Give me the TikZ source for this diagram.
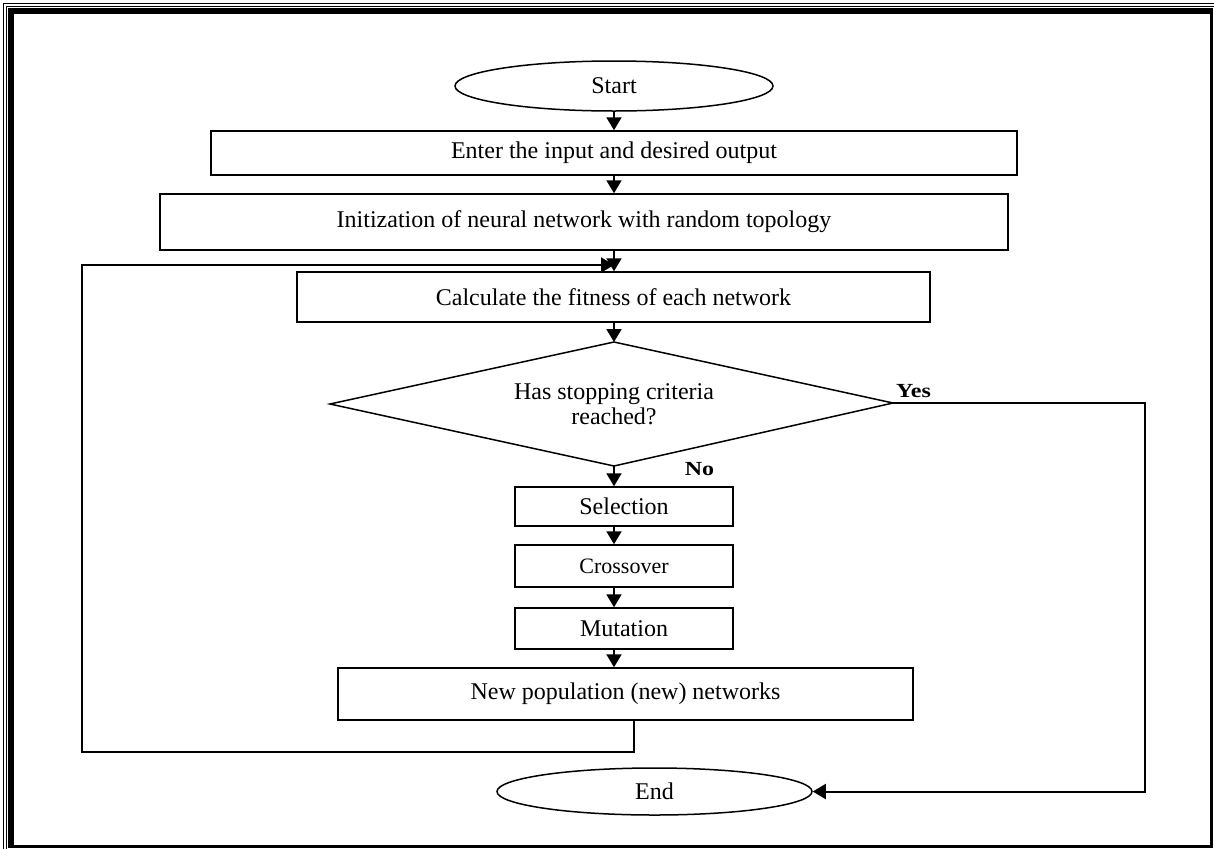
\documentclass[tikz,border=0pt]{standalone}
\usepackage{fontspec}
\setmainfont{Liberation Serif}
\newfontfamily\lblfont[FakeStretch=1.2]{Liberation Serif}
\usetikzlibrary{arrows.meta,shapes.geometric}
\begin{document}
\begin{tikzpicture}[x=1pt,y=-1pt,
  box/.style={draw,line width=1.5pt,inner sep=0pt,font=\fontsize{24}{28}\selectfont},
  oval/.style={draw,ellipse,line width=1.5pt,inner sep=0pt,font=\fontsize{24}{28}\selectfont},
  arr/.style={line width=2pt,-{Triangle[length=13pt,width=15pt]}},
  lbl/.style={font=\lblfont\fontsize{20}{24}\selectfont\bfseries,inner sep=0pt}]
\useasboundingbox (0,0) rectangle (1214,849);
% border
\draw[line width=0.8pt] (3.5,849) -- (3.5,3.5) -- (1214,3.5);
\draw[line width=0.8pt] (6,849) -- (6,6) -- (1214,6);
\fill (8.3,8.3) rectangle (13.7,847.5);
\fill (8.3,8.3) rectangle (1213,13.7);
\fill (1210,8.3) rectangle (1213,847.5);
\fill (8.3,845) rectangle (1213,847.5);
% nodes
\node[oval,minimum width=318,minimum height=50] (start) at (614,86) {Start};
\node[box,minimum width=806,minimum height=44] (b1) at (614,153) {Enter the input and desired output};
\node[box,minimum width=848,minimum height=56] (b2) at (584,222) {Initization of neural network with random topology};
\node[box,minimum width=633,minimum height=50] (b3) at (613.5,297) {Calculate the fitness of each network};
\coordinate (dT) at (614,342);
\coordinate (dL) at (330,404);
\coordinate (dR) at (893,403);
\coordinate (dB) at (614,466);
\draw[line width=1.5pt] (dT) -- (dR) -- (dB) -- (dL) -- cycle;
\node[align=center,font=\fontsize{24}{25}\selectfont,inner sep=0pt] (dtxt) at (614,404) {Has stopping criteria\\reached?};
\node[box,minimum width=218,minimum height=39] (sel) at (624,506.5) {Selection};
\node[box,minimum width=218,minimum height=42,font=\fontsize{22}{26}\selectfont] (cro) at (624,566) {Crossover};
\node[box,minimum width=218,minimum height=41] (mut) at (624,628.5) {Mutation};
\node[box,minimum width=575,minimum height=52] (np) at (625.5,694) {New population (new) networks};
\node[oval,minimum width=315,minimum height=47] (end) at (654.5,791.5) {End};
\node[lbl] (yes) at (913.5,391) {Yes};
\node[lbl] (no) at (699.5,469) {No};
% connectors
\coordinate (ax) at (614,0);
\draw[arr] (start.south) -- (start.south |- b1.north);
\draw[arr] (ax |- b1.south) -- (ax |- b2.north);
\draw[arr] (ax |- b2.south) -- (ax |- b3.north);
\draw[arr] (ax |- b3.south) -- (dT);
\draw[arr] (dB) -- (dB |- sel.north);
\draw[arr] (ax |- sel.south) -- (ax |- cro.north);
\draw[arr] (ax |- cro.south) -- (ax |- mut.north);
\draw[arr] (ax |- mut.south) -- (ax |- np.north);
\coordinate (lA) at (634,752);
\coordinate (lB) at (82,752);
\coordinate (lC) at (82,265);
\coordinate (lD) at (614,265);
\draw[arr] (lA |- np.south) -- (lA) -- (lB) -- (lC) -- (lD);
\coordinate (yA) at (1145,403);
\draw[arr] (dR) -- (yA) -- (yA |- end.east) -- (end.east);
\end{tikzpicture}
\end{document}
